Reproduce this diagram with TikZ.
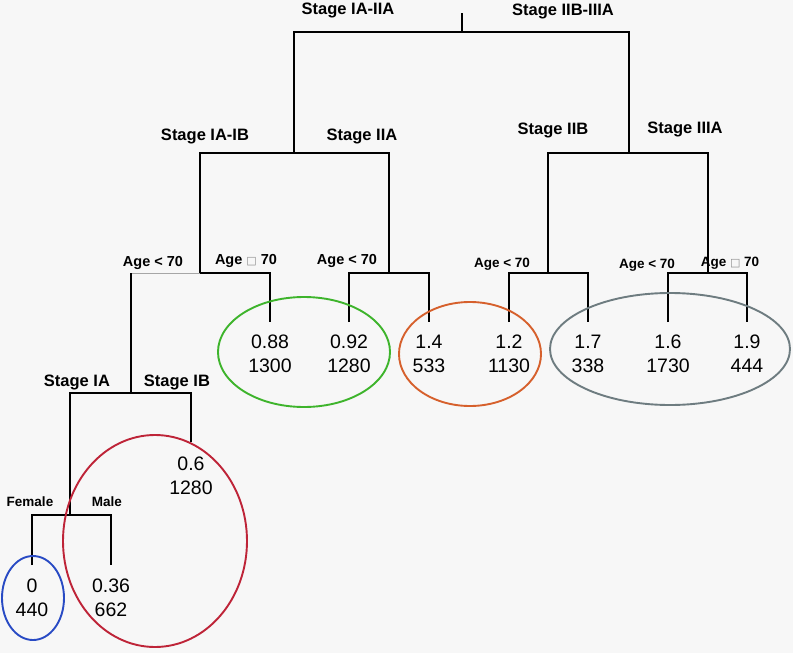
\documentclass[tikz,border=0pt]{standalone}
\usepackage{fontspec}
\setmainfont{Liberation Sans}
\newfontfamily\symfont{DejaVu Sans}

\definecolor{grpgreen}{RGB}{62,180,44}
\definecolor{grporange}{RGB}{214,96,44}
\definecolor{grpgray}{RGB}{110,124,128}
\definecolor{grpred}{RGB}{190,36,56}
\definecolor{grpblue}{RGB}{40,74,196}

\newcommand{\agebox}{{\color{black!45}\symfont\fontsize{11}{11}\selectfont □}}

\begin{document}
\begin{tikzpicture}[x=1pt,y=-1pt,
  branch/.style={line width=1.9pt, black},
  thinbranch/.style={line width=0.7pt, black!35},
  stagelbl/.style={font=\bfseries\fontsize{16.5}{19}\selectfont, inner sep=0pt},
  agelbl/.style={font=\bfseries\fontsize{14.5}{17}\selectfont, inner sep=0pt},
  smalllbl/.style={font=\bfseries\fontsize{13.5}{16}\selectfont, inner sep=0pt},
  leaf/.style={font=\fontsize{19.5}{24}\selectfont, align=center, anchor=north, inner xsep=0pt, inner ysep=13pt},
  group/.style={line width=1.9pt}]

% Background
\fill[black!3] (0,0) rectangle (793,653);

% Junctions
\coordinate (top) at (462,13);
\coordinate (root) at (462,32);
\coordinate (early) at (294,153);
\coordinate (late) at (629,153);
\coordinate (s1b) at (200,273);
\coordinate (s2a) at (389,273);
\coordinate (s2b) at (548,273);
\coordinate (s3a) at (708,273);
\coordinate (ageL) at (131,273);
\coordinate (young) at (131,393);
\coordinate (sexsplit) at (70,515);

% Leaves
\node[leaf] (leafA) at (270,322) {0.88\\1300};
\node[leaf] (leafB) at (349,322) {0.92\\1280};
\node[leaf] (leafC) at (429,322) {1.4\\533};
\node[leaf] (leafD) at (509,322) {1.2\\1130};
\node[leaf] (leafE) at (588,322) {1.7\\338};
\node[leaf] (leafF) at (668,322) {1.6\\1730};
\node[leaf] (leafG) at (747,322) {1.9\\444};
\node[leaf, inner ysep=15pt] (leafIB) at (191,442) {0.6\\1280};
\node[leaf, inner ysep=14pt] (leafFem) at (32,565) {0\\440};
\node[leaf, inner ysep=14pt] (leafMale) at (111,565) {0.36\\662};

% Tree
\draw[branch] (top) -- (root);
\draw[branch] (early) |- (root) -| (late);
\draw[branch] (s1b) |- (early) -| (s2a);
\draw[branch] (s2b) |- (late) -| (s3a);
\draw[branch] (s1b) -| (leafA.north);
\draw[thinbranch] (s1b) -- (ageL);
\draw[branch] (ageL) -- (young);
\draw[branch] (leafB.north) |- (s2a) -| (leafC.north);
\draw[branch] (leafD.north) |- (s2b) -| (leafE.north);
\draw[branch] (leafF.north) |- (s3a) -| (leafG.north);
\draw[branch] (sexsplit) |- (young) -| (leafIB.north);
\draw[branch] (leafFem.north) |- (sexsplit) -| (leafMale.north);

% Labels
\node[stagelbl] (lblEarly) at (348,10) {Stage IA-IIA};
\node[stagelbl] (lblLate) at (563,11) {Stage IIB-IIIA};
\node[stagelbl] (lblIAIB) at (205,136) {Stage IA-IB};
\node[stagelbl] (lblIIA) at (362,136) {Stage IIA};
\node[stagelbl] (lblIIB) at (553,130) {Stage IIB};
\node[stagelbl] (lblIIIA) at (685,129) {Stage IIIA};
\node[agelbl] (lblAge1) at (153,263) {Age < 70};
\node[agelbl] (lblAge2) at (246,261) {Age \agebox\ 70};
\node[agelbl] (lblAge3) at (347,261) {Age < 70};
\node[smalllbl] (lblAge4) at (502,264) {Age < 70};
\node[smalllbl] (lblAge5) at (647,265) {Age < 70};
\node[smalllbl] (lblAge6) at (730,263) {Age \agebox\ 70};
\node[stagelbl] (lblIA) at (77,382) {Stage IA};
\node[stagelbl] (lblIB) at (177,382) {Stage IB};
\node[smalllbl] (lblFem) at (30,502) {Female};
\node[smalllbl] (lblMale) at (107,502) {Male};

% Groups
\draw[group, grpgreen] (304,352) ellipse [x radius=86, y radius=55];
\draw[group, grporange] (470,354) ellipse [x radius=71, y radius=52];
\draw[group, grpgray] (670,349) ellipse [x radius=120, y radius=56];
\draw[group, grpblue] (33,598) ellipse [x radius=31, y radius=42];
\draw[group, grpred] (155,541) ellipse [x radius=92, y radius=106];

\end{tikzpicture}
\end{document}
